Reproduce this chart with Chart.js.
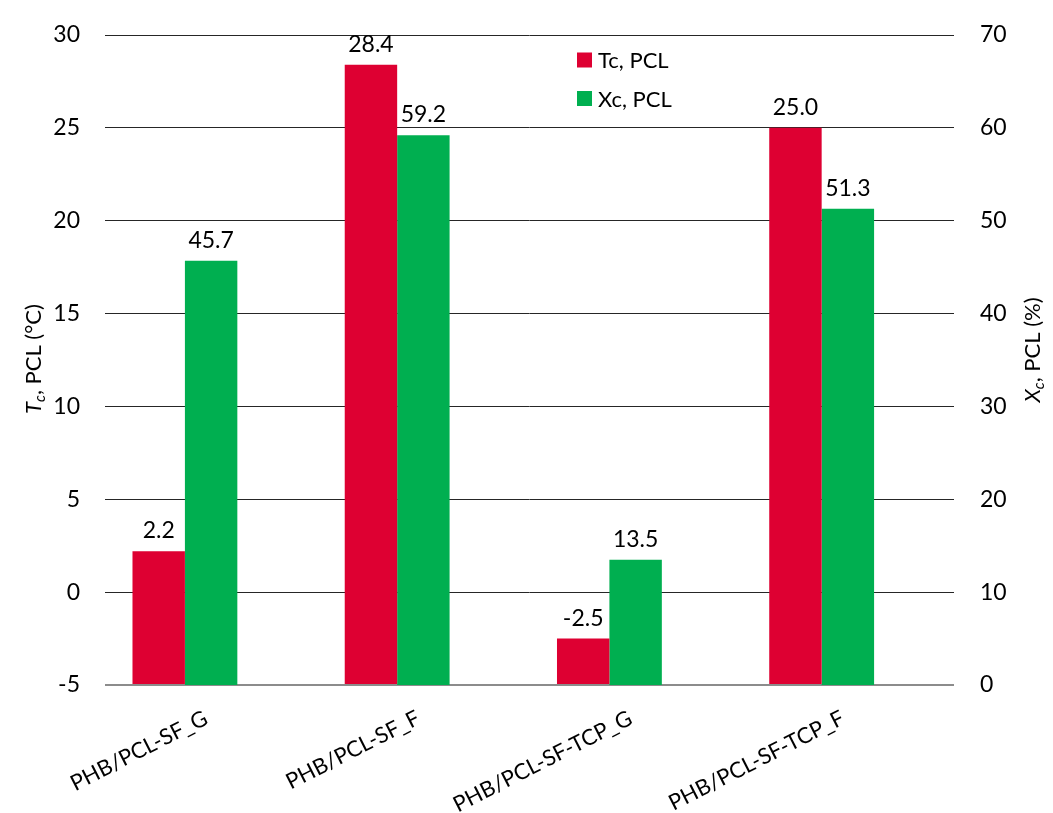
<!DOCTYPE html>
<html>
<head>
<meta charset="utf-8">
<script src="https://cdn.jsdelivr.net/npm/chart.js@4.4.1/dist/chart.umd.min.js"></script>
<style>
  html, body { margin: 0; padding: 0; background: #ffffff; }
  #wrap { width: 1053px; height: 813px; }
</style>
</head>
<body>
<div id="wrap"><canvas id="c" width="1053" height="813"></canvas></div>
<script>
// ---- data ----
const categories = ["PHB/PCL-SF_G", "PHB/PCL-SF_F", "PHB/PCL-SF-TCP_G", "PHB/PCL-SF-TCP_F"];
const tcValues = [2.2, 28.4, -2.5, 25.0];      // Tc, PCL (°C) - left axis
const xcValues = [45.7, 59.2, 13.5, 51.3];     // Xc, PCL (%)  - right axis
const spacerValues = [null, null, null, null]; // empty third slot in each group
const seriesLabels = ["Tc, PCL", "Xc, PCL"];
const tcAxisMin = -5, tcAxisMax = 30, tcAxisStep = 5;
const xcAxisMin = 0, xcAxisMax = 70, xcAxisStep = 10;

const FONT = "Lato, 'Open Sans', sans-serif";
const RED = "#DE0032";
const GREEN = "#00AF50";

const valueLabels = {
  id: "valueLabels",
  afterDatasetsDraw(chart) {
    const ctx = chart.ctx;
    ctx.save();
    ctx.font = "23px " + FONT;
    ctx.fillStyle = "#000";
    ctx.textAlign = "center";
    ctx.textBaseline = "alphabetic";
    [0, 1].forEach(di => {
      const meta = chart.getDatasetMeta(di);
      const data = chart.data.datasets[di].data;
      meta.data.forEach((el, i) => {
        if (data[i] == null) return;
        ctx.fillText(Number(data[i]).toFixed(1), el.x, el.y - 13);
      });
    });
    ctx.restore();
  }
};

const customLegend = {
  id: "customLegend",
  afterDraw(chart) {
    const ctx = chart.ctx;
    ctx.save();
    ctx.font = "22px " + FONT;
    ctx.textBaseline = "middle";
    ctx.textAlign = "left";
    const rows = [60, 98.5];
    [0, 1].forEach((di, k) => {
      const ds = chart.data.datasets[di];
      ctx.fillStyle = ds.backgroundColor;
      ctx.fillRect(577, rows[k] - 7.5, 15, 15);
      ctx.fillStyle = "#000";
      ctx.fillText(ds.label, 598, rows[k] + 1);
    });
    ctx.restore();
  }
};

function drawAxisTitle(ctx, cx, cy, letter, rest) {
  ctx.save();
  ctx.translate(cx, cy);
  ctx.rotate(-Math.PI / 2);
  ctx.textBaseline = "alphabetic";
  ctx.fillStyle = "#000";
  const big = "italic 22px " + FONT;
  const sub = "italic 15px " + FONT;
  const reg = "22px " + FONT;
  ctx.font = big; const w1 = ctx.measureText(letter).width;
  ctx.font = sub; const w2 = ctx.measureText("c").width;
  ctx.font = reg; const w3 = ctx.measureText(rest).width;
  const total = w1 + w2 + w3;
  let x = -total / 2;
  ctx.textAlign = "left";
  ctx.font = big; ctx.fillText(letter, x, 0); x += w1;
  ctx.font = sub; ctx.fillText("c", x, 4); x += w2;
  ctx.font = reg; ctx.fillText(rest, x, 0);
  ctx.restore();
}

const axisTitles = {
  id: "axisTitles",
  afterDraw(chart) {
    const ctx = chart.ctx;
    drawAxisTitle(ctx, 41, 359, "T", ", PCL (°C)");
    drawAxisTitle(ctx, 1040, 350, "X", ", PCL (%)");
  }
};

function fixVertical(width) {
  return function (scale) {
    scale.width = width;
    scale.paddingTop = 0;
    scale.paddingBottom = 0;
  };
}

new Chart(document.getElementById("c"), {
  type: "bar",
  data: {
    labels: categories,
    datasets: [
      { label: seriesLabels[0], data: tcValues, backgroundColor: RED, yAxisID: "yL", base: tcAxisMin },
      { label: seriesLabels[1], data: xcValues, backgroundColor: GREEN, yAxisID: "yR" },
      { label: "", data: spacerValues, backgroundColor: "rgba(0,0,0,0)", yAxisID: "yR" }
    ]
  },
  options: {
    responsive: false,
    animation: false,
    devicePixelRatio: 1,
    layout: { padding: { top: 35, left: 0, right: 0, bottom: 0 } },
    datasets: { bar: { categoryPercentage: 0.741, barPercentage: 1.0 } },
    plugins: {
      legend: { display: false },
      tooltip: { enabled: false },
      title: { display: false }
    },
    scales: {
      x: {
        grid: { display: false },
        border: { display: false },
        ticks: {
          color: "#000",
          font: { family: FONT, size: 22 },
          minRotation: 27, maxRotation: 27,
          padding: 12,
          labelOffset: -5,
          autoSkip: false
        },
        afterFit(scale) { scale.height = 128; scale.paddingLeft = 0; scale.paddingRight = 0; }
      },
      yL: {
        position: "left",
        min: tcAxisMin, max: tcAxisMax,
        ticks: { stepSize: tcAxisStep, color: "#000", font: { family: FONT, size: 23 }, padding: 25 },
        grid: {
          drawTicks: false,
          color: ctx => (ctx.tick && ctx.tick.value === tcAxisMin) ? "#8c8c8c" : "#262626",
          lineWidth: ctx => (ctx.tick && ctx.tick.value === tcAxisMin) ? 2 : 1
        },
        border: { display: false },
        afterFit: fixVertical(105)
      },
      yR: {
        position: "right",
        min: xcAxisMin, max: xcAxisMax,
        ticks: { stepSize: xcAxisStep, color: "#000", font: { family: FONT, size: 23 }, padding: 26 },
        grid: { display: false, drawTicks: false },
        border: { display: false },
        afterFit: fixVertical(99)
      }
    }
  },
  plugins: [valueLabels, customLegend, axisTitles]
});
</script>
</body>
</html>
